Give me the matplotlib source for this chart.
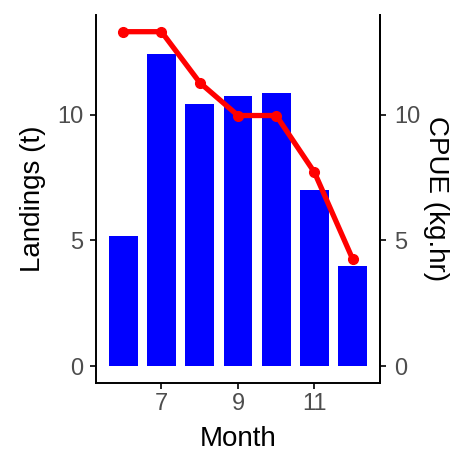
import matplotlib
matplotlib.use("Agg")
import matplotlib.pyplot as plt

plt.rcParams.update({"font.family": ["Liberation Sans", "DejaVu Sans"]})

# data
months = [6, 7, 8, 9, 10, 11, 12]
landings = [5.17, 12.42, 10.40, 10.75, 10.87, 7.02, 3.97]
cpue = [13.29, 13.29, 11.27, 9.96, 9.96, 7.70, 4.25]
x_ticks = [7, 9, 11]
y_ticks = [0, 5, 10]

GREY = "#4D4D4D"

fig = plt.figure(figsize=(4.65, 4.53), dpi=100)
ax = fig.add_axes([0.2065, 0.1545, 0.6105, 0.8125])

ax.bar(months, landings, width=0.75, color="#0000FF", zorder=2)
ax.plot(months, cpue, color="#FF0000", lw=3.8, marker="o", ms=7, zorder=3)

ax.set_xlim(5.29, 12.71)
ax.set_ylim(-0.665, 13.955)
ax.set_xticks(x_ticks)
ax.set_yticks(y_ticks)

ax.spines["top"].set_visible(False)
for s in ["left", "bottom", "right"]:
    ax.spines[s].set_linewidth(1.4)
    ax.spines[s].set_color("black")

ax.tick_params(axis="x", length=4, width=1.2, color="black",
               labelsize=17, labelcolor=GREY, pad=3)
ax.tick_params(axis="y", length=4, width=1.2, color="black",
               labelsize=17, labelcolor=GREY, pad=5)
ax.set_xlabel("Month", fontsize=20, labelpad=8)
ax.set_ylabel("Landings (t)", fontsize=20, labelpad=8)

ax2 = ax.twinx()
ax2.set_ylim(ax.get_ylim())
ax2.set_yticks(y_ticks)
for s in ["top", "left", "bottom"]:
    ax2.spines[s].set_visible(False)
ax2.spines["right"].set_linewidth(1.4)
ax2.tick_params(axis="y", length=4, width=1.2, color="black",
                labelsize=17, labelcolor=GREY, pad=6)
ax2.set_ylabel("CPUE (kg.hr)", fontsize=20, rotation=270, labelpad=21)

fig.savefig("out.png", dpi=100)
